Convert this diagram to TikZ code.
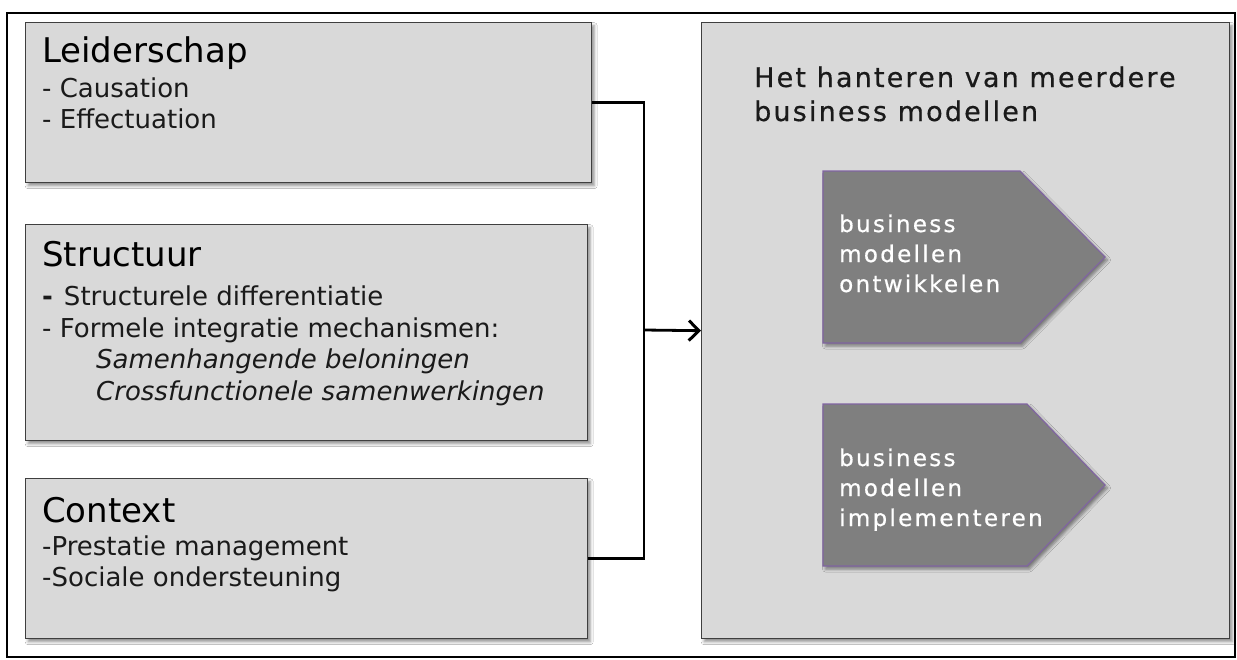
\documentclass[tikz,border=0pt]{standalone}
\usepackage{fontspec}
\setmainfont{DejaVu Sans}
\newfontfamily\titlefont[LetterSpace=8,FakeBold=0.5]{DejaVu Sans}
\newfontfamily\chevfont[LetterSpace=10,FakeBold=0.6]{DejaVu Sans}
\usetikzlibrary{shadows.blur,arrows.meta}

\definecolor{boxfill}{HTML}{D9D9D9}
\definecolor{boxline}{HTML}{3F3F3F}
\definecolor{chevfill}{HTML}{7F7F7F}
\definecolor{chevline}{HTML}{8064A2}
\definecolor{inktext}{HTML}{1A1A1A}

\tikzset{
  softshadow/.style={blur shadow={shadow xshift=2.5pt, shadow yshift=-3pt,
      shadow blur radius=3pt, shadow opacity=45}},
  panel/.style={draw=boxline, line width=1.4pt, fill=boxfill, softshadow,
      inner sep=0pt, anchor=north west},
  chevron/.style={draw=chevline, line width=1.1pt, fill=chevfill, softshadow},
  heading/.style={anchor=base west, inner sep=0pt, text=black,
      font=\fontsize{34}{40}\selectfont},
  item/.style={anchor=base west, inner sep=0pt, text=inktext,
      font=\fontsize{26}{30}\selectfont},
  subitem/.style={item, font=\fontsize{26}{30}\selectfont\itshape},
  goaltitle/.style={anchor=base west, inner sep=0pt, text=inktext,
      font=\fontsize{27}{32}\titlefont},
  chevtext/.style={anchor=base west, inner sep=0pt, text=white,
      font=\fontsize{23}{28}\chevfont},
  conn/.style={draw=black, line width=2.8pt},
}

\begin{document}
\begin{tikzpicture}[x=1pt,y=-1pt]
  % page and outer frame
  \useasboundingbox (0,0) rectangle (1237,659);
  \fill[white] (0,0) rectangle (1237,659);
  \draw[black, line width=1.5pt] (7,13) rectangle (1235,657);

  % left column panels
  \node[panel, minimum width=566pt, minimum height=160pt] (lead) at (25,22) {};
  \node[panel, minimum width=562pt, minimum height=216pt] (struct) at (25,224) {};
  \node[panel, minimum width=562pt, minimum height=160pt] (ctx) at (25,478) {};

  % right panel
  \node[panel, minimum width=528pt, minimum height=616pt] (goal) at (701,22) {};

  % Leiderschap
  \node[heading] (leadhead) at (42,62) {Leiderschap};
  \node[item] (lead1) at (42,97) {- Causation};
  \node[item] (lead2) at (42,128) {- Effectuation};

  % Structuur
  \node[heading] (structhead) at (42,266) {Structuur};
  \node[item] (struct1) at (42,305) {{\bfseries -}\hspace{11pt}Structurele differentiatie};
  \node[item] (struct2) at (42,337) {- Formele integratie mechanismen:};
  \node[subitem] (struct3) at (96,368) {Samenhangende beloningen};
  \node[subitem] (struct4) at (96,400) {Crossfunctionele samenwerkingen};

  % Context
  \node[heading] (ctxhead) at (42,522) {Context};
  \node[item] (ctx1) at (42,555) {-Prestatie management};
  \node[item] (ctx2) at (42,586) {-Sociale ondersteuning};

  % right panel title
  \node[goaltitle] (goal1) at (754,87) {Het hanteren van meerdere};
  \node[goaltitle] (goal2) at (754,121) {business modellen};

  % chevrons
  \draw[chevron] (823,171) -- (1020,171) -- (1105,257) -- (1020,343) -- (823,343) -- cycle;
  \node[chevtext] (dev1) at (839,232) {business};
  \node[chevtext] (dev2) at (839,262) {modellen};
  \node[chevtext] (dev3) at (839,292) {ontwikkelen};

  \draw[chevron] (823,404) -- (1027,404) -- (1105,485) -- (1027,566) -- (823,566) -- cycle;
  \node[chevtext] (imp1) at (839,466) {business};
  \node[chevtext] (imp2) at (839,496) {modellen};
  \node[chevtext] (imp3) at (839,526) {implementeren};

  % connectors
  \coordinate (join) at (644,330);
  \draw[conn] (lead.east) -| (join);
  \draw[conn] (ctx.east) -| (join);
  \draw[conn, -{Straight Barb[length=10pt, width=20pt, line width=3pt]}] (join) -- (goal.west);
\end{tikzpicture}
\end{document}
